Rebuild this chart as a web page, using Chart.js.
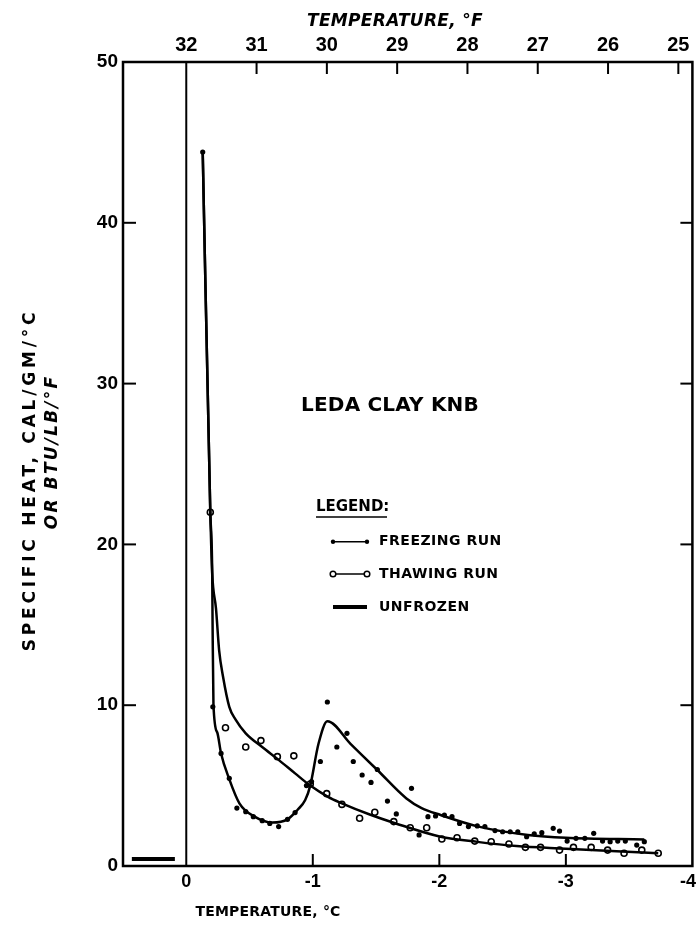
<!DOCTYPE html>
<html>
<head>
<meta charset="utf-8">
<script src="https://cdn.jsdelivr.net/npm/chart.js@4/dist/chart.umd.min.js"></script>
<style>
  html, body { margin: 0; padding: 0; background: #fff; }
  #grafico { display: block; }
</style>
</head>
<body>
<canvas id="grafico" width="698" height="928"></canvas>
<script>
// Freezing run (filled dots), temperature in °C and specific heat
const freezeDotsC = [-0.13, -0.21, -0.275, -0.34, -0.40, -0.47, -0.53, -0.60, -0.66, -0.73, -0.80, -0.86,
  -0.95, -0.99, -1.06, -1.115, -1.19, -1.27, -1.32, -1.39, -1.46, -1.51, -1.59, -1.66, -1.78, -1.84,
  -1.91, -1.97, -2.04, -2.10, -2.16, -2.23, -2.30, -2.36, -2.44, -2.50, -2.56, -2.62, -2.69, -2.75,
  -2.81, -2.90, -2.95, -3.01, -3.08, -3.15, -3.22, -3.29, -3.35, -3.41, -3.47, -3.56, -3.62];
const freezeDotsV = [44.4, 9.9, 7.0, 5.45, 3.6, 3.38, 3.07, 2.82, 2.65, 2.45, 2.9, 3.32,
  5.0, 5.25, 6.5, 10.2, 7.4, 8.25, 6.5, 5.66, 5.2, 6.0, 4.04, 3.24, 4.83, 1.93,
  3.07, 3.11, 3.17, 3.07, 2.65, 2.45, 2.49, 2.45, 2.2, 2.13, 2.13, 2.13, 1.82, 2.0,
  2.07, 2.34, 2.17, 1.55, 1.72, 1.72, 2.03, 1.55, 1.51, 1.55, 1.55, 1.3, 1.51];

// Thawing run (open circles)
const thawDotsC = [-0.19, -0.31, -0.47, -0.59, -0.72, -0.85, -0.98, -1.11, -1.23, -1.37, -1.49, -1.64,
  -1.77, -1.90, -2.02, -2.14, -2.28, -2.41, -2.55, -2.68, -2.80, -2.95, -3.06, -3.20, -3.33, -3.46,
  -3.60, -3.73];
const thawDotsV = [22.0, 8.6, 7.4, 7.8, 6.8, 6.85, 5.1, 4.5, 3.83, 2.97, 3.34, 2.76,
  2.38, 2.38, 1.68, 1.76, 1.55, 1.51, 1.37, 1.16, 1.16, 0.99, 1.16, 1.16, 0.99, 0.79,
  0.99, 0.79];

// Drawn curves through each run
const freezeCurveC = [-0.13, -0.19, -0.205, -0.208, -0.215, -0.245, -0.275, -0.34, -0.42, -0.54, -0.68,
  -0.80, -0.88, -0.94, -0.98, -1.045, -1.115, -1.30, -1.51, -1.74, -1.86, -2.01, -2.31, -2.70, -3.00, -3.62];
const freezeCurveV = [44.4, 22.0, 18.2, 15.0, 10.0, 8.3, 7.0, 5.4, 3.9, 3.07, 2.7,
  2.9, 3.5, 4.1, 5.0, 7.6, 9.0, 7.58, 5.97, 4.2, 3.6, 3.17, 2.45, 1.93, 1.75, 1.65];

const thawCurveC = [-0.13, -0.19, -0.205, -0.235, -0.26, -0.29, -0.34, -0.39, -0.47, -0.60, -0.73, -0.86,
  -0.98, -1.12, -1.23, -1.45, -1.65, -2.01, -2.30, -2.61, -3.00, -3.40, -3.73];
const thawCurveV = [44.4, 22.0, 18.2, 16.0, 13.4, 11.8, 9.9, 9.1, 8.25, 7.4, 6.6, 5.76,
  5.0, 4.3, 3.9, 3.2, 2.66, 1.82, 1.5, 1.24, 1.08, 0.92, 0.79];

// Unfrozen value and the 0 °C line
const unfrozenC = [0.43, 0.09];
const unfrozenV = [0.44, 0.44];
const zeroLineC = [0, 0];
const zeroLineV = [0, 50];

// Tick labels
const yTicks = [0, 10, 20, 30, 40, 50];
const cTicks = [0, -1, -2, -3, -4];
const fTicks = [25, 26, 27, 28, 29, 30, 31, 32];

const pts = (xs, ys) => xs.map((x, i) => ({ x: x, y: ys[i] }));
const FONT = '"DejaVu Sans", sans-serif';
const DIGITS = '"Liberation Sans", Arial, sans-serif';

function linha(ctx, x1, y1, x2, y2) {
  ctx.beginPath();
  ctx.moveTo(x1, y1);
  ctx.lineTo(x2, y2);
  ctx.stroke();
}

function texto(ctx, s, x, y, font, spacing, align) {
  ctx.font = font;
  ctx.letterSpacing = (spacing || 0) + 'px';
  ctx.textAlign = align || 'center';
  ctx.textBaseline = 'middle';
  ctx.fillText(s, x, y);
}

// Frame, inward ticks, bottom labels and free text
const moldura = {
  id: 'moldura',
  afterDraw(chart) {
    const { ctx, chartArea: a, scales } = chart;
    ctx.save();
    ctx.strokeStyle = '#000';
    ctx.fillStyle = '#000';
    ctx.lineWidth = 2.5;
    ctx.strokeRect(a.left, a.top, a.right - a.left, a.bottom - a.top);

    ctx.lineWidth = 2;
    yTicks.filter(v => v > 0 && v < 50).forEach(v => {
      const py = scales.y.getPixelForValue(v);
      linha(ctx, a.left, py, a.left + 13, py);
      linha(ctx, a.right, py, a.right - 12, py);
    });
    fTicks.filter(v => v < 32).forEach(v => {
      const px = scales.xF.getPixelForValue(v);
      linha(ctx, px, a.top, px, a.top + 12);
    });
    cTicks.filter(v => v < 0 && v > -4).forEach(v => {
      const px = scales.x.getPixelForValue(v);
      linha(ctx, px, a.bottom, px, a.bottom - 12);
    });

    // bottom tick labels (last one kept inside the page)
    cTicks.forEach(v => {
      let px = scales.x.getPixelForValue(v);
      px = Math.min(px, chart.width - 10);
      texto(ctx, String(v), px, a.bottom + 16, 'bold 18px ' + DIGITS, 0);
    });

    texto(ctx, 'TEMPERATURE, °F', 395, 22, 'italic bold 17px ' + FONT, 0.3);
    texto(ctx, 'TEMPERATURE, °C', 268, 912, 'bold 14px ' + FONT, 0.2);

    ctx.save();
    ctx.translate(31, 480);
    ctx.rotate(-Math.PI / 2);
    texto(ctx, 'SPECIFIC HEAT, CAL/GM/°C', 0, 0, 'bold 17px ' + FONT, 3.8);
    ctx.restore();
    ctx.save();
    ctx.translate(53, 452);
    ctx.rotate(-Math.PI / 2);
    texto(ctx, 'OR BTU/LB/°F', 0, 0, 'italic bold 17px ' + FONT, 2.2);
    ctx.restore();

    texto(ctx, 'LEDA CLAY KNB', 390, 406, 'bold 20px ' + FONT, 0.2);

    // legend
    texto(ctx, 'LEGEND:', 316, 507, 'bold 15px ' + FONT, 0, 'left');
    ctx.lineWidth = 1.5;
    linha(ctx, 316, 517, 387, 517);
    const rows = [['FREEZING RUN', 541.7], ['THAWING RUN', 574], ['UNFROZEN', 607]];
    rows.forEach(([nome, y], i) => {
      ctx.lineWidth = i === 2 ? 4 : 1.5;
      linha(ctx, 333, y, 367, y);
      if (i === 0) {
        [333, 367].forEach(x => { ctx.beginPath(); ctx.arc(x, y, 2.2, 0, Math.PI * 2); ctx.fill(); });
      } else if (i === 1) {
        ctx.lineWidth = 1.5;
        [333, 367].forEach(x => {
          ctx.beginPath(); ctx.arc(x, y, 2.8, 0, Math.PI * 2);
          ctx.fillStyle = '#fff'; ctx.fill(); ctx.stroke(); ctx.fillStyle = '#000';
        });
      }
      texto(ctx, nome, 379, y, 'bold 14px ' + FONT, 0.5, 'left');
    });
    ctx.restore();
  }
};

const ctx = document.getElementById('grafico').getContext('2d');
new Chart(ctx, {
  type: 'scatter',
  data: {
    datasets: [
      { label: '0 °C', data: pts(zeroLineC, zeroLineV), showLine: true, borderColor: '#000', borderWidth: 2, pointRadius: 0 },
      { label: 'Unfrozen', data: pts(unfrozenC, unfrozenV), showLine: true, borderColor: '#000', borderWidth: 4, pointRadius: 0 },
      { label: 'Freezing curve', data: pts(freezeCurveC, freezeCurveV), showLine: true, borderColor: '#000',
        borderWidth: 2.5, pointRadius: 0, cubicInterpolationMode: 'monotone' },
      { label: 'Thawing curve', data: pts(thawCurveC, thawCurveV), showLine: true, borderColor: '#000',
        borderWidth: 2.5, pointRadius: 0, cubicInterpolationMode: 'monotone' },
      { label: 'Freezing run', data: pts(freezeDotsC, freezeDotsV), showLine: false, pointRadius: 2.6,
        pointBackgroundColor: '#000', pointBorderWidth: 0 },
      { label: 'Thawing run', data: pts(thawDotsC, thawDotsV), showLine: false, pointRadius: 3,
        pointBackgroundColor: '#fff', pointBorderColor: '#000', pointBorderWidth: 1.6 }
    ]
  },
  options: {
    responsive: false,
    animation: false,
    devicePixelRatio: 1,
    layout: { padding: { left: 0, right: 2, top: 0, bottom: 0 } },
    plugins: { legend: { display: false }, tooltip: { enabled: false } },
    scales: {
      x: {
        type: 'linear', position: 'bottom', min: -4, max: 0.5, reverse: true,
        grid: { display: false, drawTicks: false }, border: { display: false }, ticks: { display: false },
        afterBuildTicks: s => { s.ticks = cTicks.map(v => ({ value: v })); },
        afterFit: s => { s.height = 62; s.paddingLeft = 0; s.paddingRight = 0; }
      },
      xF: {
        type: 'linear', position: 'top', min: 24.8, max: 32.9, reverse: true,
        grid: { display: false, drawTicks: false }, border: { display: false },
        ticks: { color: '#000', font: { family: DIGITS, weight: 'bold', size: 20 }, padding: 5, maxRotation: 0, autoSkip: false },
        afterBuildTicks: s => { s.ticks = fTicks.map(v => ({ value: v })); },
        afterFit: s => { s.height = 62; s.paddingLeft = 0; s.paddingRight = 0; }
      },
      y: {
        type: 'linear', position: 'left', min: 0, max: 50,
        grid: { display: false, drawTicks: false }, border: { display: false },
        ticks: { color: '#000', font: { family: DIGITS, weight: 'bold', size: 19 }, padding: 5 },
        afterBuildTicks: s => { s.ticks = yTicks.map(v => ({ value: v })); },
        afterFit: s => { s.width = 123; s.paddingTop = 0; s.paddingBottom = 0; }
      }
    }
  },
  plugins: [moldura]
});
</script>
</body>
</html>
